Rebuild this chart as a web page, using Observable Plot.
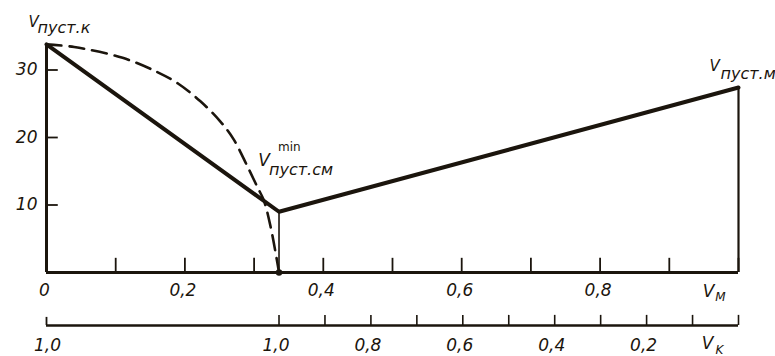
<!DOCTYPE html>
<html><head><meta charset="utf-8">
<script src="https://cdn.jsdelivr.net/npm/d3@7"></script>
<script src="https://cdn.jsdelivr.net/npm/@observablehq/plot@0.6"></script>
<style>body{margin:0;background:#fff}</style>
</head><body><div id="chart"></div>
<script>
// ---- data ----
const solidX = [0, 0.336, 1.0];
const solidY = [33.8, 9.0, 27.4];
const dashX = [0, 0.04, 0.11, 0.16, 0.19, 0.222, 0.251, 0.27, 0.29, 0.305, 0.314, 0.324, 0.333, 0.336];
const dashY = [33.8, 33.4, 31.8, 29.7, 28.0, 25.4, 22.4, 19.8, 15.8, 12.6, 10.7, 6.7, 1.8, 0];
const vmTicks = [0, 0.1, 0.2, 0.3, 0.4, 0.5, 0.6, 0.7, 0.8, 0.9, 1.0];
const vmLabelValues = [0, 0.2, 0.4, 0.6, 0.8];
const vmLabels = ["0", "0,2", "0,4", "0,6", "0,8"];
const vkTicks = [1.0, 0.9, 0.8, 0.7, 0.6, 0.5, 0.4, 0.3, 0.2, 0.1, 0];
const vkLabelValues = [1.0, 0.8, 0.6, 0.4, 0.2];
const vkLabels = ["1,0", "0,8", "0,6", "0,4", "0,2"];
const vkLeftLabel = "1,0";
const yTicks = [10, 20, 30];
const yLabels = ["10", "20", "30"];

// ---- derived ----
const solid = solidX.map((x, i) => ({x, y: solidY[i]}));
const dashed = dashX.map((x, i) => ({x, y: dashY[i]}));
const minPt = solid[1], startPt = solid[0], endPt = solid[2];
const vkToVm = d3.scaleLinear([1, 0], [minPt.x, 1]);

const ink = "#1b150d";
const font = "'DejaVu Sans', sans-serif";
const VK_DY = 53;
const tx = {fill: ink, fontFamily: font, fontStyle: "italic", stroke: null};

const chart = Plot.plot({
  width: 775, height: 356,
  marginLeft: 46, marginRight: 37, marginTop: 42.5, marginBottom: 84,
  x: {domain: [0, 1], axis: null},
  y: {domain: [0, 34], axis: null},
  style: {background: "#fff", overflow: "visible"},
  marks: [
    // main axes
    Plot.ruleX(vmTicks, {x: d => d, y1: 0, y2: 2.1, stroke: ink, strokeWidth: 1.8}),
    Plot.ruleY(yTicks, {y: d => d, x1: 0, x2: 0.017, stroke: ink, strokeWidth: 1.8}),
    Plot.ruleY([0], {x1: 0, x2: 1, stroke: ink, strokeWidth: 3}),
    Plot.ruleX([0], {y1: 0, y2: startPt.y, stroke: ink, strokeWidth: 3}),
    Plot.ruleX([1], {y1: 0, y2: endPt.y, stroke: ink, strokeWidth: 2.2}),
    Plot.ruleX([minPt], {x: "x", y1: 0, y2: "y", stroke: ink, strokeWidth: 1.6}),
    // second axis (V_K)
    Plot.ruleY([0], {x1: 0, x2: 1, dy: VK_DY, stroke: ink, strokeWidth: 2.4}),
    Plot.ruleX(vkTicks, {x: d => vkToVm(d), y1: 0, y2: 1.5, dy: VK_DY, stroke: ink, strokeWidth: 1.6}),
    Plot.ruleX([0], {y1: 0, y2: 1.2, dy: VK_DY, stroke: ink, strokeWidth: 1.8}),
    // curves
    Plot.line(dashed, {x: "x", y: "y", curve: "catmull-rom", stroke: ink, strokeWidth: 2.6, strokeDasharray: "15,8"}),
    Plot.line(solid, {x: "x", y: "y", stroke: ink, strokeWidth: 4, strokeLinejoin: "round"}),
    Plot.dot([minPt], {x: "x", y: 0, r: 3.2, fill: ink, stroke: null}),
    // tick labels
    Plot.text(yTicks, {...tx, x: 0, y: d => d, text: (d, i) => yLabels[i], textAnchor: "end", dx: -9, fontSize: 17}),
    Plot.text(vmLabelValues, {...tx, x: d => d, y: 0, text: (d, i) => vmLabels[i], dx: -2, dy: 18, fontSize: 17}),
    Plot.text(vkLabelValues, {...tx, x: d => vkToVm(d), y: 0, text: (d, i) => vkLabels[i], dx: -3, dy: 73, fontSize: 17}),
    Plot.text([0], {...tx, x: d => d, y: 0, text: () => vkLeftLabel, dx: 1, dy: 73, fontSize: 17}),
    // axis names
    Plot.text([1], {...tx, x: d => d, y: 0, text: () => "V", dx: -30, dy: 19, fontSize: 17}),
    Plot.text([1], {...tx, x: d => d, y: 0, text: () => "M", dx: -18, dy: 25, fontSize: 12}),
    Plot.text([1], {...tx, x: d => d, y: 0, text: () => "V", dx: -31, dy: 71, fontSize: 17}),
    Plot.text([1], {...tx, x: d => d, y: 0, text: () => "K", dx: -19, dy: 78, fontSize: 12}),
    // point labels
    Plot.text([startPt], {...tx, x: "x", y: "y", text: () => "V", dx: -13, dy: -22, fontSize: 15}),
    Plot.text([startPt], {...tx, x: "x", y: "y", text: () => "пуст.к", textAnchor: "start", dx: -9, dy: -16, fontSize: 16, letterSpacing: 1.5}),
    Plot.text([minPt], {...tx, x: "x", y: "y", text: () => "V", dx: -15, dy: -51, fontSize: 17}),
    Plot.text([minPt], {...tx, x: "x", y: "y", text: () => "min", textAnchor: "start", dx: -1, dy: -65, fontSize: 12, fontStyle: "normal"}),
    Plot.text([minPt], {...tx, x: "x", y: "y", text: () => "пуст.см", textAnchor: "start", dx: -10, dy: -42, fontSize: 16, letterSpacing: 1.5}),
    Plot.text([endPt], {...tx, x: "x", y: "y", text: () => "V", dx: -24, dy: -21, fontSize: 15}),
    Plot.text([endPt], {...tx, x: "x", y: "y", text: () => "пуст.м", textAnchor: "start", dx: -18, dy: -14, fontSize: 16, letterSpacing: 1.5})
  ]
});
document.getElementById("chart").appendChild(chart);
</script>
</body></html>
